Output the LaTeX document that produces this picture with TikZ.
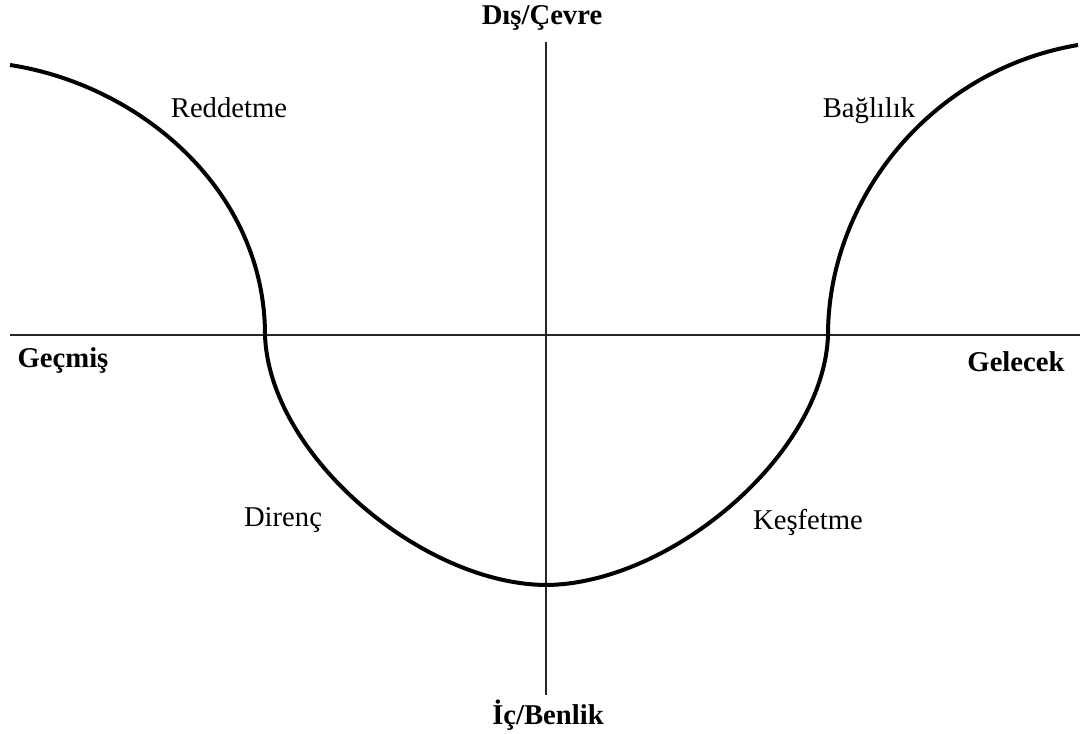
\documentclass[tikz,border=0pt]{standalone}
\usepackage{fontspec}
\setmainfont{Liberation Serif}
\begin{document}
\begin{tikzpicture}[x=0.75pt,y=-0.75pt,
  axis/.style={line width=1.5pt,black!85},
  curve/.style={line width=3pt,black},
  lbl/.style={inner sep=0pt,font=\fontsize{21.5}{25}\selectfont},
  blbl/.style={inner sep=0pt,font=\fontsize{21.5}{25}\selectfont\bfseries}]
\useasboundingbox (0,0) rectangle (1088,733);
% axes
\coordinate (xl) at (10,335);
\coordinate (xr) at (1080,335);
\coordinate (yt) at (546,42);
\coordinate (yb) at (546,695);
\draw[axis] (xl) -- (xr);
\draw[axis] (yt) -- (yb);
% curve
\coordinate (c0) at (10,65);
\coordinate (c1) at (265,335);
\coordinate (c2) at (546,585);
\coordinate (c3) at (828,335);
\coordinate (c4) at (1078,45);
\draw[curve] (c0) .. controls (140,85) and (265,190) .. (c1)
  .. controls (269,455) and (422,584) .. (c2)
  .. controls (670,584) and (824,455) .. (c3)
  .. controls (828,200) and (930,70) .. (c4);
% labels
\node[blbl] (top) at (542,18) {Dış/Çevre};
\node[blbl] (bot) at (548,715) {İç/Benlik};
\node[blbl] (past) at (63,360) {Geçmiş};
\node[blbl] (fut) at (1016,362) {Gelecek};
\node[lbl] (red) at (229,108) {Reddetme};
\node[lbl] (bag) at (869,111) {Bağlılık};
\node[lbl] (dir) at (283,520) {Direnç};
\node[lbl] (kes) at (808,522) {Keşfetme};
\end{tikzpicture}
\end{document}
